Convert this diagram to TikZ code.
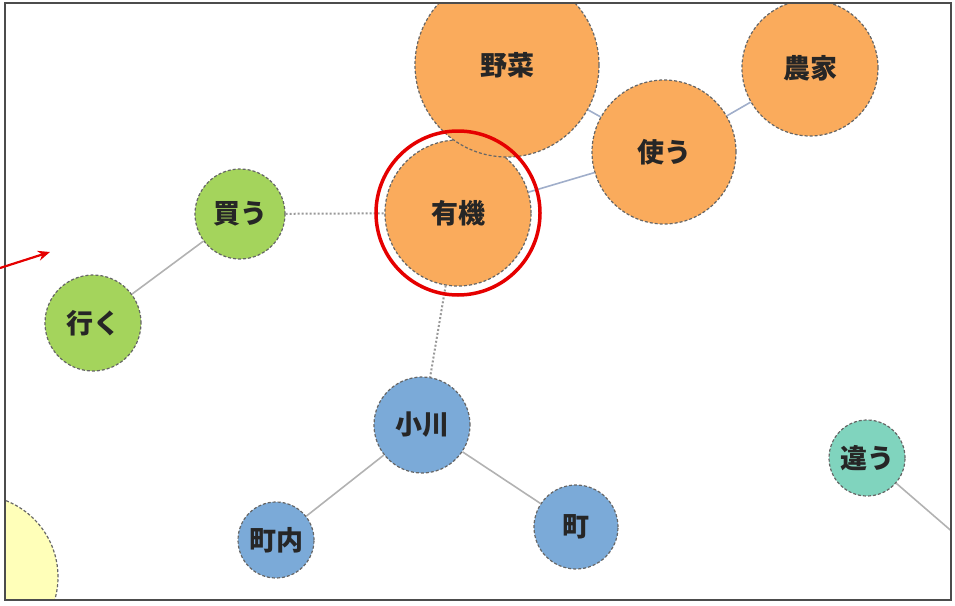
\documentclass[tikz,border=0pt]{standalone}
\usepackage{fontspec}
\newfontfamily\jpfont{Noto Sans CJK JP}
\usetikzlibrary{arrows.meta}

\definecolor{orangefill}{RGB}{250,171,92}
\definecolor{greenfill}{RGB}{164,212,92}
\definecolor{bluefill}{RGB}{123,170,216}
\definecolor{tealfill}{RGB}{128,212,190}
\definecolor{yellowfill}{RGB}{255,255,185}
\definecolor{tielink}{RGB}{160,174,202}

\begin{document}
\begin{tikzpicture}[x=1pt,y=-1pt,
    word/.style={circle,draw=black!60,densely dashed,line width=1.2pt,inner sep=0pt,
      text=black!85,font=\jpfont\bfseries\fontsize{27}{27}\selectfont},
    link/.style={draw=black!30,line width=1.6pt},
    weak/.style={draw=black!40,dotted,line width=2pt},
    tie/.style={draw=tielink,line width=1.6pt},
    ring/.style={draw=red!90!black,line width=3.5pt},
    pointer/.style={draw=red!90!black,line width=2.2pt,-{Stealth[length=12pt,width=10pt]}}]

    % Define picture size
    \useasboundingbox (0,0) rectangle (955,605);

    % Define words: name/x/y/diameter/colour/text
    \def\words{%
      kiiro/-24/577/164/yellowfill/{},%
      yuki/458/213/146/orangefill/有機,%
      yasai/507/65/184/orangefill/野菜,%
      tsukau/664/152/144/orangefill/使う,%
      noka/810/68/136/orangefill/農家,%
      kau/240/214/90/greenfill/買う,%
      iku/93/323/96/greenfill/行く,%
      ogawa/422/425/96/bluefill/小川,%
      chonai/276/540/76/bluefill/町内,%
      machi/576/527/84/bluefill/町,%
      chigau/867/458/76/tealfill/違う%
    }

    \begin{scope}
        \clip (5,3) rectangle (951,600);

        % Draw word circles
        \foreach \name/\x/\y/\d/\col/\txt in \words {
            \node[word,fill=\col,minimum size=\d pt] (\name) at (\x,\y) {\raisebox{-4pt}{\txt}};
        }

        % Draw links
        \draw[tie] (yasai) -- (tsukau);
        \draw[tie] (tsukau) -- (noka);
        \draw[tie] (yuki) -- (tsukau);
        \draw[weak] (kau) -- (yuki);
        \draw[weak] (yuki) -- (ogawa);
        \draw[link] (kau) -- (iku);
        \draw[link] (ogawa) -- (chonai);
        \draw[link] (ogawa) -- (machi);
        \coordinate (offright) at (985,560);
        \draw[link] (chigau) -- (offright);
    \end{scope}

    % Frame
    \draw[black!70,line width=1.8pt] (5,3) rectangle (951,600);

    % Highlight
    \draw[ring] (yuki.center) circle[radius=82];
    \coordinate (tail) at (0,268);
    \coordinate (tip) at (50,252);
    \draw[pointer] (tail) -- (tip);

\end{tikzpicture}
\end{document}
